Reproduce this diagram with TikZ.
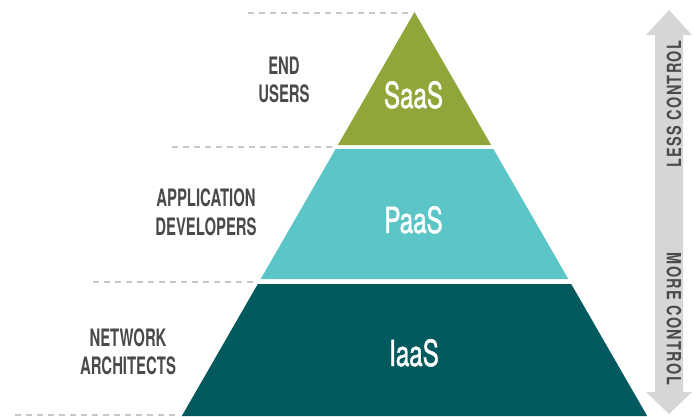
\documentclass[tikz,border=0pt]{standalone}
\usepackage{fontspec}
\newfontfamily\labfont[FakeStretch=0.62]{TeX Gyre Heros}
\newfontfamily\tierfont[FakeStretch=0.67,FakeBold=1.2]{TeX Gyre Heros}
\newfontfamily\arrowfont[FakeStretch=0.74,LetterSpace=7]{TeX Gyre Heros}
\definecolor{saasgreen}{HTML}{8FA63A}
\definecolor{paasteal}{HTML}{5BC5C7}
\definecolor{iaasteal}{HTML}{02595E}
\definecolor{arrowgray}{HTML}{D6D6D9}
\definecolor{dashgray}{HTML}{C8C8C8}
\definecolor{labelgray}{HTML}{4A4A4A}
\tikzset{
  guide/.style={draw=dashgray, line width=2pt, dash pattern=on 6pt off 5pt},
  rolelabel/.style={anchor=base, inner sep=0pt, text=labelgray,
    font=\labfont\bfseries\fontsize{24}{24}\selectfont},
  tiername/.style={anchor=base, inner sep=0pt, text=white,
    font=\tierfont\fontsize{36}{36}\selectfont},
  arrowtext/.style={inner sep=0pt, text=labelgray,
    font=\arrowfont\bfseries\fontsize{19.5}{19.5}\selectfont}
}
\begin{document}
\begin{tikzpicture}[x=1pt, y=-1pt]
  \useasboundingbox (0,0) rectangle (693,416);
  \clip (0,0) rectangle (693,416);

  % dashed guide lines between the tiers
  \coordinate (g1a) at (248,13);  \coordinate (g1b) at (410,13);
  \coordinate (g2a) at (172,147); \coordinate (g2b) at (335,147);
  \coordinate (g3a) at (93,282);  \coordinate (g3b) at (257,282);
  \coordinate (g4a) at (15,415);  \coordinate (g4b) at (180,415);
  \draw[guide] (g1a) -- (g1b);
  \draw[guide] (g2a) -- (g2b);
  \draw[guide] (g3a) -- (g3b);
  \draw[guide] (g4a) -- (g4b);

  % pyramid tiers
  \fill[saasgreen] (414.5,12) -- (491.1,145) -- (337.9,145) -- cycle;
  \fill[paasteal] (335.6,149) -- (493.4,149) -- (568.3,279) -- (260.7,279) -- cycle;
  \fill[iaasteal] (257.8,284) -- (571.2,284) -- (647.2,416) -- (181.8,416) -- cycle;

  \node[tiername] (saas) at (413.5,108) {SaaS};
  \node[tiername] (paas) at (413.5,233) {PaaS};
  \node[tiername] (iaas) at (414,366) {IaaS};

  % roles on the left
  \node[rolelabel] (end)   at (284,74)  {END};
  \node[rolelabel] (users) at (284,102) {USERS};
  \node[rolelabel] (app)   at (206,206) {APPLICATION};
  \node[rolelabel] (dev)   at (206,235) {DEVELOPERS};
  \node[rolelabel] (net)   at (128,346) {NETWORK};
  \node[rolelabel] (arch)  at (128,374) {ARCHITECTS};

  % double-headed control arrow
  \fill[arrowgray] (669,10) -- (692,35) -- (683,35) -- (683,392) -- (692,392)
    -- (669,414) -- (646,392) -- (655,392) -- (655,35) -- (646,35) -- cycle;
  \node[arrowtext, rotate=90]  (less) at (674,104) {LESS CONTROL};
  \node[arrowtext, rotate=-90] (more) at (674,319) {MORE CONTROL};
\end{tikzpicture}
\end{document}
